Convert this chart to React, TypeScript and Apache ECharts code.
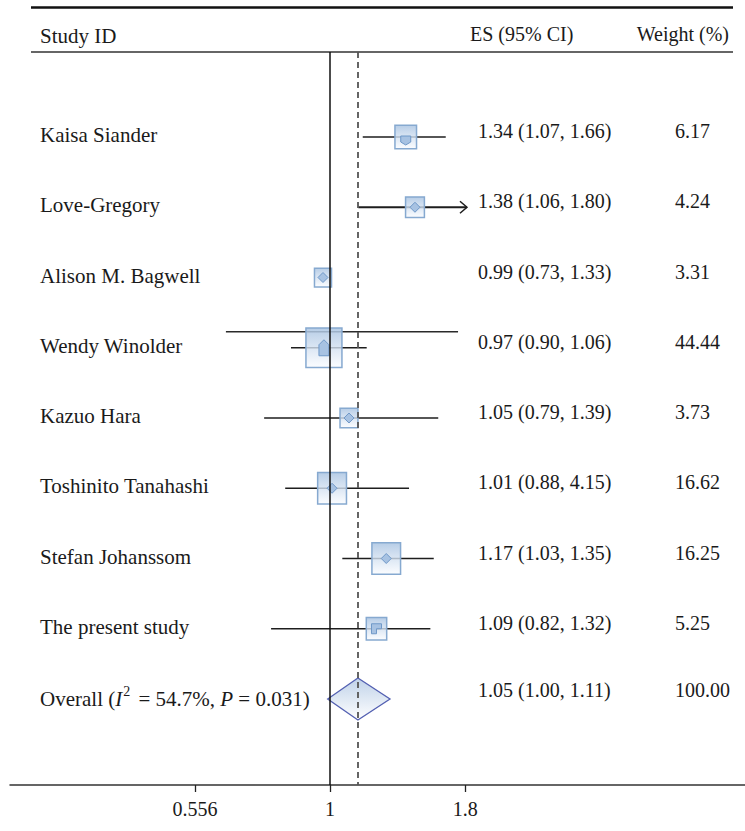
import React, { useEffect, useRef } from "react";
import * as echarts from "echarts";

// ---- data (text columns) ----
const studies = [
  "Kaisa Siander",
  "Love-Gregory",
  "Alison M. Bagwell",
  "Wendy Winolder",
  "Kazuo Hara",
  "Toshinito Tanahashi",
  "Stefan Johanssom",
  "The present study",
];
const esValues = [1.34, 1.38, 0.99, 0.97, 1.05, 1.01, 1.17, 1.09];
const ciLower = [1.07, 1.06, 0.73, 0.9, 0.79, 0.88, 1.03, 0.82];
const ciUpper = [1.66, 1.8, 1.33, 1.06, 1.39, 4.15, 1.35, 1.32];
const weights = [6.17, 4.24, 3.31, 44.44, 3.73, 16.62, 16.25, 5.25];
const overallEs = 1.05;
const overallLower = 1.0;
const overallUpper = 1.11;
const overallWeight = 100.0;
const iSquared = 54.7;
const pValue = 0.031;

// ---- data (as drawn in the plot) ----
const plotEs = [1.39, 1.447, 0.97, 0.974, 1.086, 1.009, 1.277, 1.224];
const plotLower: (number | null)[] = [1.153, 1.131, null, 0.844, 0.751, 0.823, 1.055, 0.774];
const plotUpper: (number | null)[] = [1.654, 1.814, null, 1.173, 1.601, 1.41, 1.57, 1.547];
const plotAltLower: (number | null)[] = [null, null, null, 0.636, null, null, null, null];
const plotAltUpper: (number | null)[] = [null, null, null, 1.745, null, null, null, null];
const plotArrow = [false, true, false, false, false, false, false, false];
const plotOverall = [0.99, 1.129, 1.298]; // lower, centre, upper
const nullLine = 1;

const tickValues = [0.556, 1, 1.8];
const tickLabels = ["0.556", "1", "1.8"];

// ---- styles ----
const FONT = "'Liberation Serif', 'Times New Roman', serif";
const markerShapes = ["shield", "diamond", "diamond", "house", "diamond", "diamond", "diamond", "corner"];
const PX_PER_LN = 230;
const AXIS_X0 = 330;

export default function App() {
  const ref = useRef<HTMLDivElement>(null);

  useEffect(() => {
    if (!ref.current) return;
    const chart = echarts.init(ref.current, undefined, { renderer: "svg" });

    const gridLeft = 10;
    const gridRight = 0;
    const W = 745;
    const xMin = (gridLeft - AXIS_X0) / PX_PER_LN;
    const xMax = (W - gridRight - AXIS_X0) / PX_PER_LN;

    const boxFill = () =>
      new echarts.graphic.LinearGradient(0, 0, 0, 1, [
        { offset: 0, color: "rgba(170,196,226,0.85)" },
        { offset: 1, color: "rgba(250,252,255,0.75)" },
      ]);

    const markerPoints = (shape: string, cx: number, cy: number) => {
      if (shape === "shield")
        return [[cx - 5, cy - 4], [cx + 5, cy - 4], [cx + 5, cy + 2], [cx, cy + 5], [cx - 5, cy + 2]];
      if (shape === "house")
        return [[cx - 5, cy + 8], [cx - 5, cy - 3], [cx, cy - 8], [cx + 5, cy - 3], [cx + 5, cy + 8]];
      if (shape === "corner")
        return [[cx - 5, cy - 5], [cx + 5, cy - 5], [cx + 5, cy], [cx, cy], [cx, cy + 5], [cx - 5, cy + 5]];
      return [[cx, cy - 5], [cx + 5, cy], [cx, cy + 5], [cx - 5, cy]];
    };

    const rows = studies.map((_, i) => [0, i]).concat([[0, studies.length]]);

    const renderItem = (params: any, api: any) => {
      const i = params.dataIndex;
      const yc = api.coord([0, i])[1];
      const px = (v: number) => api.coord([Math.log(v), i])[0];
      const children: any[] = [];
      const txt = (text: string, x: number, y: number, size = 20, align = "left") => ({
        type: "text",
        style: {
          text,
          x,
          y,
          fill: "#1a1a1a",
          font: `${size}px ${FONT}`,
          align,
          verticalAlign: "middle",
        },
      });
      if (i < studies.length) {
        if (plotAltLower[i] != null && plotAltUpper[i] != null) {
          children.push({
            type: "line",
            shape: { x1: px(plotAltLower[i] as number), y1: yc - 16, x2: px(plotAltUpper[i] as number), y2: yc - 16 },
            style: { stroke: "#2a2a2a", lineWidth: 1.4 },
          });
        }
        if (plotLower[i] != null && plotUpper[i] != null) {
          const x1 = px(plotLower[i] as number);
          const x2 = px(plotUpper[i] as number);
          children.push({
            type: "line",
            shape: { x1, y1: yc, x2, y2: yc },
            style: { stroke: "#1e1e1e", lineWidth: plotArrow[i] ? 1.8 : 1.4 },
          });
          if (plotArrow[i]) {
            children.push({
              type: "polyline",
              shape: { points: [[x2 - 7, yc - 6], [x2, yc], [x2 - 7, yc + 6]] },
              style: { stroke: "#1e1e1e", lineWidth: 1.5, fill: "none" },
            });
          }
        }
        const cx = px(plotEs[i]);
        const s = 8.3 + 7.3 * Math.log(weights[i]);
        children.push({
          type: "rect",
          shape: { x: cx - s / 2, y: yc - s * 0.55, width: s, height: s * 1.1 },
          style: { fill: boxFill(), stroke: "#86a9d0", lineWidth: 1.5 },
        });
        children.push({
          type: "polygon",
          shape: { points: markerPoints(markerShapes[i], cx, yc + (markerShapes[i] === "shield" ? 3 : 0)) },
          style: { fill: "#a7c2e2", stroke: "#6f98c8", lineWidth: 1 },
        });
        children.push(txt(studies[i], 40, yc - 2, 21));
        children.push(
          txt(`${esValues[i].toFixed(2)} (${ciLower[i].toFixed(2)}, ${ciUpper[i].toFixed(2)})`, 478, yc - 6)
        );
        children.push(txt(weights[i].toFixed(2), 675, yc - 6));
      } else {
        const xl = px(plotOverall[0]);
        const xc = px(plotOverall[1]);
        const xr = px(plotOverall[2]);
        children.push({
          type: "polygon",
          shape: { points: [[xl, yc], [xc, yc - 21], [xr, yc], [xc, yc + 21]] },
          style: {
            fill: new echarts.graphic.LinearGradient(0, 0, 0, 1, [
              { offset: 0, color: "#c0d2e9" },
              { offset: 1, color: "#ffffff" },
            ]),
            stroke: "#5360b2",
            lineWidth: 1.3,
          },
        });
        children.push({
          type: "text",
          style: {
            x: 40,
            y: yc,
            verticalAlign: "middle",
            text: `{n|Overall (}{i|I}{s|2}{n| = ${iSquared.toFixed(1)}%, }{i|P}{n| = ${pValue.toFixed(3)})}`,
            rich: {
              n: { fontFamily: FONT, fontSize: 21, fill: "#1a1a1a", color: "#1a1a1a" },
              i: { fontFamily: FONT, fontSize: 21, fontStyle: "italic", fill: "#1a1a1a", color: "#1a1a1a" },
              s: { fontFamily: FONT, fontSize: 14, fill: "#1a1a1a", color: "#1a1a1a", padding: [0, 3, 16, 1] },
            },
          },
        });
        children.push(
          txt(`${overallEs.toFixed(2)} (${overallLower.toFixed(2)}, ${overallUpper.toFixed(2)})`, 478, yc - 9)
        );
        children.push(txt(overallWeight.toFixed(2), 675, yc - 9));
      }
      return { type: "group", children };
    };

    const tickLn = tickValues.map((t) => Math.log(t));

    chart.setOption({
      animation: false,
      grid: { left: gridLeft, right: gridRight, top: 52, bottom: 46, containLabel: false },
      xAxis: {
        type: "value",
        min: xMin,
        max: xMax,
        axisLine: { show: true, onZero: false, lineStyle: { color: "#333", width: 1.5 } },
        axisTick: { show: true, customValues: tickLn, length: 7, lineStyle: { color: "#222", width: 1.3 } },
        axisLabel: {
          show: true,
          customValues: tickLn,
          margin: 14,
          fontFamily: FONT,
          fontSize: 20,
          color: "#1a1a1a",
          formatter: (v: number) => {
            const k = tickLn.findIndex((t) => Math.abs(t - v) < 1e-6);
            return k >= 0 ? tickLabels[k] : "";
          },
        },
        splitLine: { show: false },
      },
      yAxis: {
        type: "value",
        inverse: true,
        min: -1.21,
        max: 9.224,
        show: false,
      },
      graphic: [
        { type: "line", shape: { x1: 31, y1: 7.5, x2: 733, y2: 7.5 }, style: { stroke: "#111", lineWidth: 2.5 } },
        { type: "line", shape: { x1: 31, y1: 52, x2: 733, y2: 52 }, style: { stroke: "#333", lineWidth: 1.3 } },
        { type: "text", x: 40, y: 36, style: { text: "Study ID", font: `21px ${FONT}`, fill: "#1a1a1a", verticalAlign: "middle" } },
        { type: "text", x: 470, y: 34, style: { text: "ES (95% CI)", font: `20px ${FONT}`, fill: "#1a1a1a", verticalAlign: "middle" } },
        { type: "text", x: 729, y: 34, style: { text: "Weight (%)", font: `20px ${FONT}`, fill: "#1a1a1a", align: "right", verticalAlign: "middle" } },
      ],
      series: [
        {
          type: "custom",
          renderItem,
          data: rows,
          clip: false,
          z: 2,
          markLine: {
            silent: true,
            symbol: "none",
            label: { show: false },
            z: 3,
            data: [
              { xAxis: Math.log(nullLine), lineStyle: { type: "solid", color: "#111", width: 1.5 } },
              { xAxis: Math.log(plotOverall[1]), lineStyle: { type: [6, 4], color: "#555", width: 1.8 } },
            ],
          },
        },
      ],
    });

    return () => chart.dispose();
  }, []);

  return (
    <div
      ref={ref}
      style={{ position: "fixed", left: 0, top: 0, width: 745, height: 831, background: "#fff" }}
    />
  );
}
